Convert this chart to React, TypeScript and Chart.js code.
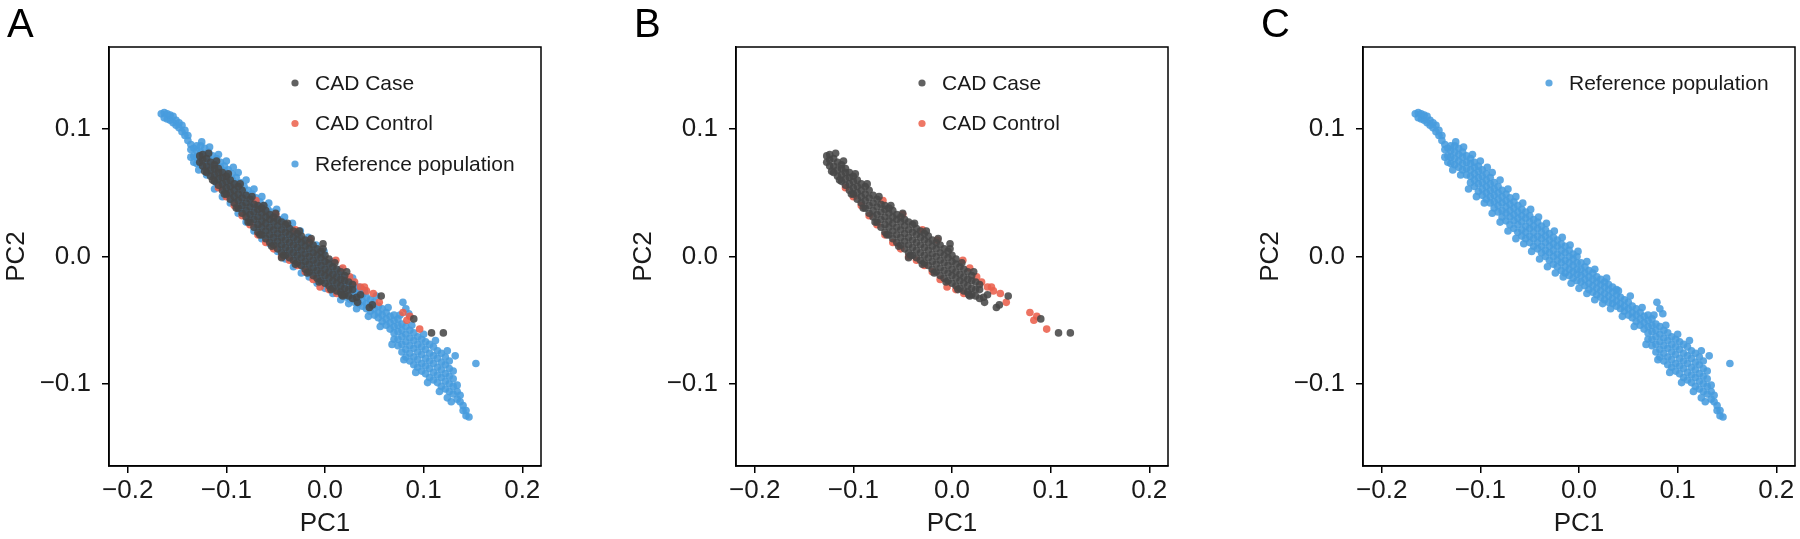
import React, { useEffect, useRef } from "react";
import { Chart, registerables } from "chart.js";

Chart.register(...registerables);

const X_TICKS = [-0.2, -0.1, 0, 0.1, 0.2];
const X_TICK_LABELS = ["\u22120.2", "\u22120.1", "0.0", "0.1", "0.2"];
const Y_TICKS = [-0.1, 0, 0.1];
const Y_TICK_LABELS = ["\u22120.1", "0.0", "0.1"];
const X_TITLE = "PC1";
const Y_TITLE = "PC2";
const SERIES_NAMES = ["CAD Case", "CAD Control", "Reference population"];
const PANEL_LETTERS = ["A", "B", "C"];

// CAD Case (PC1, PC2)
const CAD_CASE: number[][] = [
  [-0.127,0.074],[-0.127,0.079],
  [-0.124,0.071],[-0.124,0.076],[-0.124,0.080],
  [-0.120,0.066],[-0.120,0.071],[-0.120,0.077],
  [-0.116,0.063],[-0.116,0.068],[-0.116,0.074],
  [-0.112,0.059],[-0.112,0.064],[-0.112,0.069],[-0.112,0.072],
  [-0.108,0.056],[-0.108,0.061],[-0.108,0.066],[-0.108,0.069],
  [-0.104,0.052],[-0.104,0.057],[-0.104,0.062],[-0.104,0.066],
  [-0.100,0.049],[-0.100,0.054],[-0.100,0.059],[-0.100,0.063],
  [-0.096,0.045],[-0.096,0.050],[-0.096,0.055],[-0.096,0.060],
  [-0.092,0.042],[-0.092,0.047],[-0.092,0.052],[-0.092,0.057],
  [-0.088,0.038],[-0.088,0.044],[-0.088,0.049],[-0.088,0.055],
  [-0.084,0.034],[-0.084,0.040],[-0.084,0.046],[-0.084,0.052],
  [-0.080,0.031],[-0.080,0.036],[-0.080,0.042],[-0.080,0.048],
  [-0.076,0.027],[-0.076,0.033],[-0.076,0.039],[-0.076,0.045],
  [-0.072,0.023],[-0.072,0.029],[-0.072,0.035],[-0.072,0.041],
  [-0.068,0.019],[-0.068,0.025],[-0.068,0.031],[-0.068,0.037],[-0.068,0.040],
  [-0.064,0.017],[-0.064,0.023],[-0.064,0.028],[-0.064,0.034],[-0.064,0.038],
  [-0.060,0.014],[-0.060,0.020],[-0.060,0.026],[-0.060,0.031],[-0.060,0.036],
  [-0.056,0.011],[-0.056,0.017],[-0.056,0.023],[-0.056,0.029],[-0.056,0.033],
  [-0.052,0.009],[-0.052,0.015],[-0.052,0.021],[-0.052,0.027],[-0.052,0.031],
  [-0.048,0.006],[-0.048,0.012],[-0.048,0.018],[-0.048,0.024],[-0.048,0.029],
  [-0.044,0.003],[-0.044,0.009],[-0.044,0.015],[-0.044,0.021],[-0.044,0.027],
  [-0.040,0.001],[-0.040,0.007],[-0.040,0.013],[-0.040,0.019],[-0.040,0.025],
  [-0.036,-0.001],[-0.036,0.005],[-0.036,0.011],[-0.036,0.017],[-0.036,0.022],
  [-0.032,-0.003],[-0.032,0.003],[-0.032,0.009],[-0.032,0.015],[-0.032,0.020],
  [-0.028,-0.005],[-0.028,0.001],[-0.028,0.007],[-0.028,0.013],[-0.028,0.018],
  [-0.024,-0.007],[-0.024,-0.001],[-0.024,0.005],[-0.024,0.011],[-0.024,0.016],
  [-0.020,-0.010],[-0.020,-0.004],[-0.020,0.002],[-0.020,0.008],[-0.020,0.013],
  [-0.016,-0.012],[-0.016,-0.006],[-0.016,0.000],[-0.016,0.006],[-0.016,0.011],
  [-0.012,-0.015],[-0.012,-0.009],[-0.012,-0.003],[-0.012,0.003],[-0.012,0.009],
  [-0.008,-0.017],[-0.008,-0.011],[-0.008,-0.005],[-0.008,0.001],[-0.008,0.006],
  [-0.004,-0.019],[-0.004,-0.013],[-0.004,-0.007],[-0.004,-0.001],[-0.004,0.004],
  [0.000,-0.021],[0.000,-0.015],[0.000,-0.010],[0.000,-0.004],[0.000,0.001],
  [0.004,-0.023],[0.004,-0.017],[0.004,-0.012],[0.004,-0.006],[0.004,-0.002],
  [0.008,-0.025],[0.008,-0.019],[0.008,-0.014],[0.008,-0.008],
  [0.012,-0.027],[0.012,-0.021],[0.012,-0.016],[0.012,-0.010],
  [0.016,-0.028],[0.016,-0.023],[0.016,-0.018],[0.016,-0.012],
  [0.020,-0.030],[0.020,-0.025],[0.020,-0.019],[0.020,-0.015],
  [0.024,-0.031],[0.024,-0.026],[0.024,-0.020],
  [0.028,-0.033],[0.028,-0.026],[0.028,-0.022],
  [-0.118,0.081],[-0.110,0.075],[-0.098,0.065],[-0.086,0.057],[-0.074,0.047],
  [-0.062,0.040],[-0.050,0.034],[-0.038,0.026],[-0.026,0.020],[-0.014,0.014],
  [-0.002,0.006],[0.010,-0.005],[0.022,-0.012],
  [-0.122,0.067],[-0.114,0.060],[-0.102,0.049],[-0.090,0.038],[-0.078,0.027],
  [-0.066,0.017],[-0.054,0.008],[-0.042,0.001],[-0.030,-0.006],[-0.018,-0.013],
  [-0.006,-0.020],[0.006,-0.026],[0.018,-0.031],
  [-0.002,0.010],[-0.044,-0.001],[0.017,-0.030],[0.032,-0.032],[0.036,-0.030],
  [0.033,-0.036],[0.045,-0.040],[0.048,-0.038],[0.057,-0.031],[0.090,-0.049],
  [0.108,-0.060],[0.120,-0.060],
];

// CAD Control (PC1, PC2)
const CAD_CONTROL: number[][] = [
  [-0.108,0.054],[-0.100,0.047],[-0.092,0.040],[-0.084,0.032],[-0.076,0.025],
  [-0.068,0.017],[-0.060,0.011],[-0.052,0.006],[-0.044,0.000],[-0.036,-0.003],
  [-0.028,-0.007],[-0.020,-0.012],[-0.012,-0.018],[-0.005,-0.024],[0.004,-0.026],
  [0.012,-0.029],
  [-0.070,0.044],[-0.050,0.033],[-0.030,0.021],[-0.015,0.013],[0.011,-0.003],
  [0.018,-0.009],[0.025,-0.016],[0.030,-0.020],
  [0.036,-0.024],[0.040,-0.024],[0.042,-0.027],[0.049,-0.029],[0.055,-0.036],
  [0.079,-0.044],[0.083,-0.050],[0.096,-0.057],[0.086,-0.047],
];

// Reference population (PC1, PC2)
const REFERENCE: number[][] = [
  [-0.166,0.112],
  [-0.163,0.109],[-0.163,0.113],
  [-0.160,0.108],[-0.160,0.112],
  [-0.157,0.107],[-0.157,0.111],
  [-0.154,0.105],[-0.154,0.110],
  [-0.151,0.103],[-0.151,0.107],
  [-0.148,0.101],[-0.148,0.105],
  [-0.145,0.098],[-0.145,0.103],
  [-0.142,0.095],[-0.142,0.099],
  [-0.139,0.091],[-0.139,0.095],
  [-0.136,0.078],[-0.136,0.084],[-0.136,0.088],
  [-0.133,0.074],[-0.133,0.079],[-0.133,0.085],
  [-0.130,0.073],[-0.130,0.078],[-0.130,0.083],[-0.130,0.087],
  [-0.126,0.072],[-0.126,0.077],[-0.126,0.082],[-0.126,0.087],
  [-0.122,0.070],[-0.122,0.075],[-0.122,0.080],[-0.122,0.085],
  [-0.118,0.068],[-0.118,0.073],[-0.118,0.078],[-0.118,0.082],
  [-0.114,0.064],[-0.114,0.069],[-0.114,0.074],[-0.114,0.079],
  [-0.110,0.058],[-0.110,0.063],[-0.110,0.068],[-0.110,0.073],[-0.110,0.077],
  [-0.106,0.055],[-0.106,0.060],[-0.106,0.065],[-0.106,0.070],[-0.106,0.074],
  [-0.102,0.051],[-0.102,0.057],[-0.102,0.062],[-0.102,0.067],[-0.102,0.071],
  [-0.098,0.048],[-0.098,0.053],[-0.098,0.058],[-0.098,0.063],[-0.098,0.068],
  [-0.094,0.045],[-0.094,0.050],[-0.094,0.055],[-0.094,0.060],[-0.094,0.065],
  [-0.090,0.042],[-0.090,0.047],[-0.090,0.052],[-0.090,0.057],[-0.090,0.062],
  [-0.086,0.038],[-0.086,0.043],[-0.086,0.048],[-0.086,0.053],[-0.086,0.058],
  [-0.082,0.035],[-0.082,0.040],[-0.082,0.045],[-0.082,0.050],[-0.082,0.055],
  [-0.078,0.031],[-0.078,0.036],[-0.078,0.042],[-0.078,0.047],[-0.078,0.052],
  [-0.074,0.028],[-0.074,0.034],[-0.074,0.039],[-0.074,0.044],[-0.074,0.049],
  [-0.070,0.025],[-0.070,0.031],[-0.070,0.036],[-0.070,0.041],[-0.070,0.046],
  [-0.066,0.022],[-0.066,0.028],[-0.066,0.033],[-0.066,0.038],[-0.066,0.043],
  [-0.062,0.019],[-0.062,0.025],[-0.062,0.030],[-0.062,0.035],[-0.062,0.040],
  [-0.058,0.016],[-0.058,0.021],[-0.058,0.027],[-0.058,0.032],[-0.058,0.037],
  [-0.054,0.014],[-0.054,0.019],[-0.054,0.024],[-0.054,0.030],[-0.054,0.035],
  [-0.050,0.011],[-0.050,0.016],[-0.050,0.022],[-0.050,0.027],[-0.050,0.032],
  [-0.046,0.008],[-0.046,0.014],[-0.046,0.019],[-0.046,0.024],[-0.046,0.029],
  [-0.042,0.006],[-0.042,0.011],[-0.042,0.016],[-0.042,0.022],[-0.042,0.027],
  [-0.038,0.003],[-0.038,0.008],[-0.038,0.014],[-0.038,0.019],[-0.038,0.024],
  [-0.034,0.000],[-0.034,0.005],[-0.034,0.011],[-0.034,0.016],[-0.034,0.021],
  [-0.030,-0.003],[-0.030,0.003],[-0.030,0.008],[-0.030,0.013],[-0.030,0.018],
  [-0.026,-0.006],[-0.026,0.000],[-0.026,0.005],[-0.026,0.010],[-0.026,0.015],
  [-0.022,-0.008],[-0.022,-0.003],[-0.022,0.002],[-0.022,0.008],[-0.022,0.013],
  [-0.018,-0.011],[-0.018,-0.005],[-0.018,0.000],[-0.018,0.005],[-0.018,0.010],
  [-0.014,-0.013],[-0.014,-0.008],[-0.014,-0.003],[-0.014,0.003],[-0.014,0.008],
  [-0.010,-0.015],[-0.010,-0.010],[-0.010,-0.005],[-0.010,0.000],[-0.010,0.005],
  [-0.006,-0.017],[-0.006,-0.012],[-0.006,-0.007],[-0.006,-0.002],[-0.006,0.002],
  [-0.002,-0.019],[-0.002,-0.014],[-0.002,-0.010],[-0.002,-0.005],[-0.002,0.000],
  [0.002,-0.020],[0.002,-0.015],[0.002,-0.010],[0.002,-0.005],
  [0.006,-0.023],[0.006,-0.018],[0.006,-0.013],[0.006,-0.008],
  [0.010,-0.026],[0.010,-0.021],[0.010,-0.016],[0.010,-0.011],
  [0.014,-0.028],[0.014,-0.023],[0.014,-0.018],[0.014,-0.013],
  [0.018,-0.030],[0.018,-0.025],[0.018,-0.020],[0.018,-0.016],
  [0.022,-0.032],[0.022,-0.027],[0.022,-0.022],[0.022,-0.018],
  [0.026,-0.034],[0.026,-0.029],[0.026,-0.024],[0.026,-0.020],
  [0.030,-0.036],[0.030,-0.031],[0.030,-0.026],[0.030,-0.022],
  [0.034,-0.037],[0.034,-0.033],[0.034,-0.028],[0.034,-0.024],
  [0.038,-0.039],[0.038,-0.035],[0.038,-0.030],[0.038,-0.026],
  [0.042,-0.041],[0.042,-0.037],[0.042,-0.032],
  [0.046,-0.043],[0.046,-0.039],[0.046,-0.034],
  [0.050,-0.046],[0.050,-0.041],[0.050,-0.036],
  [0.054,-0.048],[0.054,-0.044],[0.054,-0.039],
  [0.058,-0.051],[0.058,-0.046],[0.058,-0.041],
  [0.062,-0.054],[0.062,-0.049],[0.062,-0.044],
  [0.066,-0.057],[0.066,-0.052],[0.066,-0.047],
  [0.070,-0.065],[0.070,-0.060],[0.070,-0.055],[0.070,-0.050],[0.070,-0.046],
  [0.074,-0.070],[0.074,-0.065],[0.074,-0.059],[0.074,-0.054],[0.074,-0.049],
  [0.078,-0.075],[0.078,-0.069],[0.078,-0.063],[0.078,-0.058],[0.078,-0.053],
  [0.082,-0.079],[0.082,-0.073],[0.082,-0.067],[0.082,-0.061],[0.082,-0.055],
  [0.086,-0.082],[0.086,-0.076],[0.086,-0.070],[0.086,-0.064],[0.086,-0.058],
  [0.090,-0.085],[0.090,-0.079],[0.090,-0.072],[0.090,-0.066],[0.090,-0.060],
  [0.094,-0.087],[0.094,-0.081],[0.094,-0.075],[0.094,-0.069],[0.094,-0.063],
  [0.098,-0.090],[0.098,-0.084],[0.098,-0.077],[0.098,-0.071],[0.098,-0.065],
  [0.102,-0.092],[0.102,-0.086],[0.102,-0.080],[0.102,-0.073],[0.102,-0.067],
  [0.106,-0.095],[0.106,-0.088],[0.106,-0.082],[0.106,-0.076],[0.106,-0.069],
  [0.110,-0.097],[0.110,-0.091],[0.110,-0.084],[0.110,-0.078],[0.110,-0.071],
  [0.114,-0.099],[0.114,-0.093],[0.114,-0.087],[0.114,-0.080],[0.114,-0.074],
  [0.118,-0.102],[0.118,-0.095],[0.118,-0.089],[0.118,-0.083],[0.118,-0.076],
  [0.122,-0.104],[0.122,-0.098],[0.122,-0.092],[0.122,-0.085],[0.122,-0.079],
  [0.126,-0.106],[0.126,-0.100],[0.126,-0.094],[0.126,-0.088],[0.126,-0.082],
  [0.130,-0.108],[0.130,-0.102],[0.130,-0.096],[0.130,-0.090],
  [0.134,-0.112],[0.134,-0.106],[0.134,-0.101],
  [0.137,-0.114],[0.137,-0.109],
  [0.140,-0.121],[0.140,-0.117],
  [0.143,-0.125],[0.143,-0.121],
  [0.146,-0.126],
  [-0.125,0.090],[-0.117,0.086],[-0.108,0.080],[-0.100,0.075],[-0.093,0.070],
  [-0.088,0.066],[-0.080,0.060],[-0.072,0.053],[-0.064,0.047],[-0.057,0.042],
  [-0.049,0.037],[-0.041,0.031],[-0.033,0.026],[-0.025,0.020],[-0.017,0.015],
  [-0.009,0.009],[-0.001,0.004],[0.008,-0.004],[0.016,-0.010],[0.028,-0.017],
  [0.040,-0.027],[0.052,-0.031],[0.064,-0.040],[0.076,-0.046],[0.088,-0.054],
  [0.100,-0.061],[0.112,-0.066],[0.124,-0.074],
  [-0.128,0.068],[-0.120,0.064],[-0.112,0.053],[-0.104,0.047],[-0.096,0.042],
  [-0.088,0.034],[-0.080,0.027],[-0.072,0.020],[-0.064,0.014],[-0.056,0.010],
  [-0.048,0.004],[-0.040,-0.002],[-0.032,-0.008],[-0.024,-0.013],[-0.016,-0.016],
  [-0.008,-0.021],[0.000,-0.025],[0.008,-0.029],[0.016,-0.034],[0.024,-0.037],
  [0.032,-0.041],[0.044,-0.047],[0.056,-0.055],[0.068,-0.069],[0.080,-0.081],
  [0.092,-0.091],[0.104,-0.099],[0.116,-0.106],[0.124,-0.111],
  [0.079,-0.036],[0.085,-0.045],[0.082,-0.041],[0.153,-0.084],[0.128,-0.114],[0.132,-0.078],
];

const SERIES_POINTS = [CAD_CASE, CAD_CONTROL, REFERENCE];
const SERIES_COLORS = ["rgba(72,72,72,0.88)", "rgba(234,96,76,0.88)", "rgba(72,156,222,0.88)"];
const LEGEND_COLORS = ["rgba(80,80,80,0.9)", "rgba(236,104,84,0.9)", "rgba(80,160,222,0.9)"];
// which series each panel shows (indices into SERIES_NAMES)
const PANEL_SERIES = [[0, 1, 2], [0, 1], [2]];

const FONT = '"Liberation Sans", Arial, Helvetica, sans-serif';
const CANVAS_W = 627;
const CANVAS_H = 539;

const decorPlugin = {
  id: "decor",
  afterDatasetsDraw(chart: any, _args: any, opts: any) {
    const { ctx, chartArea: a } = chart;
    ctx.save();
    ctx.strokeStyle = "#000";
    ctx.lineWidth = 1.5;
    ctx.strokeRect(a.left, a.top, a.right - a.left, a.bottom - a.top);
    ctx.fillStyle = "#000";
    ctx.font = `40px ${FONT}`;
    ctx.textBaseline = "alphabetic";
    ctx.textAlign = "left";
    ctx.fillText(opts.letter, 7, 37);
    ctx.font = `21px ${FONT}`;
    ctx.textBaseline = "middle";
    (opts.items || []).forEach((it: any, i: number) => {
      const y = a.top + 36 + i * 40.5;
      ctx.fillStyle = it.color;
      ctx.beginPath();
      ctx.arc(a.left + 186, y, 3.6, 0, Math.PI * 2);
      ctx.fill();
      ctx.fillStyle = "#1a1a1a";
      ctx.fillText(it.name, a.left + 206, y + 1);
    });
    ctx.restore();
  },
};

function Panel({ index }: { index: number }) {
  const ref = useRef<HTMLCanvasElement | null>(null);
  useEffect(() => {
    if (!ref.current) return;
    const series = PANEL_SERIES[index];
    const datasets = series.map((s) => ({
      label: SERIES_NAMES[s],
      data: SERIES_POINTS[s].map(([x, y]) => ({ x, y })),
      backgroundColor: SERIES_COLORS[s],
      borderColor: SERIES_COLORS[s],
      borderWidth: 0,
      pointRadius: 3.8,
      pointHoverRadius: 3.8,
    }));
    const chart = new Chart(ref.current, {
      type: "scatter",
      data: { datasets },
      plugins: [decorPlugin],
      options: {
        responsive: false,
        animation: false,
        events: [],
        layout: { padding: { left: 0, top: 47, right: 86, bottom: 0 } },
        plugins: {
          legend: { display: false },
          tooltip: { enabled: false },
          decor: {
            letter: PANEL_LETTERS[index],
            items: series.map((s) => ({ name: SERIES_NAMES[s], color: LEGEND_COLORS[s] })),
          },
        } as any,
        scales: {
          x: {
            type: "linear",
            min: -0.219,
            max: 0.219,
            afterBuildTicks: (s: any) => {
              s.ticks = X_TICKS.map((v) => ({ value: v }));
            },
            afterFit: (s: any) => {
              s.height = 73;
            },
            ticks: {
              autoSkip: false,
              maxRotation: 0,
              padding: 2,
              color: "#1a1a1a",
              font: { family: FONT, size: 26 },
              callback: (_v: any, i: number) => X_TICK_LABELS[i],
            },
            grid: { drawOnChartArea: false, drawTicks: true, tickLength: 7, color: "#000", lineWidth: 1.5 },
            border: { display: true, color: "#000", width: 1.5 },
            title: {
              display: true,
              text: X_TITLE,
              color: "#1a1a1a",
              font: { family: FONT, size: 26 },
              padding: { top: 0, bottom: 0 },
            },
          },
          y: {
            type: "linear",
            min: -0.1645,
            max: 0.1645,
            afterBuildTicks: (s: any) => {
              s.ticks = Y_TICKS.map((v) => ({ value: v }));
            },
            afterFit: (s: any) => {
              s.width = 109;
            },
            ticks: {
              autoSkip: false,
              padding: 11,
              color: "#1a1a1a",
              font: { family: FONT, size: 26 },
              callback: (_v: any, i: number) => Y_TICK_LABELS[i],
            },
            grid: { drawOnChartArea: false, drawTicks: true, tickLength: 7, color: "#000", lineWidth: 1.5 },
            border: { display: true, color: "#000", width: 1.5 },
            title: {
              display: true,
              text: Y_TITLE,
              color: "#1a1a1a",
              font: { family: FONT, size: 26 },
              padding: { top: 1, bottom: 0 },
            },
          },
        },
      } as any,
    });
    return () => chart.destroy();
  }, [index]);
  return (
    <canvas
      ref={ref}
      width={CANVAS_W}
      height={CANVAS_H}
      style={{ position: "absolute", left: index * CANVAS_W, top: 0, width: CANVAS_W, height: CANVAS_H }}
    />
  );
}

export default function App() {
  return (
    <div
      style={{
        position: "fixed",
        left: 0,
        top: 0,
        width: 1800,
        height: 539,
        overflow: "hidden",
        background: "#fff",
      }}
    >
      {PANEL_LETTERS.map((_, i) => (
        <Panel key={i} index={i} />
      ))}
    </div>
  );
}
